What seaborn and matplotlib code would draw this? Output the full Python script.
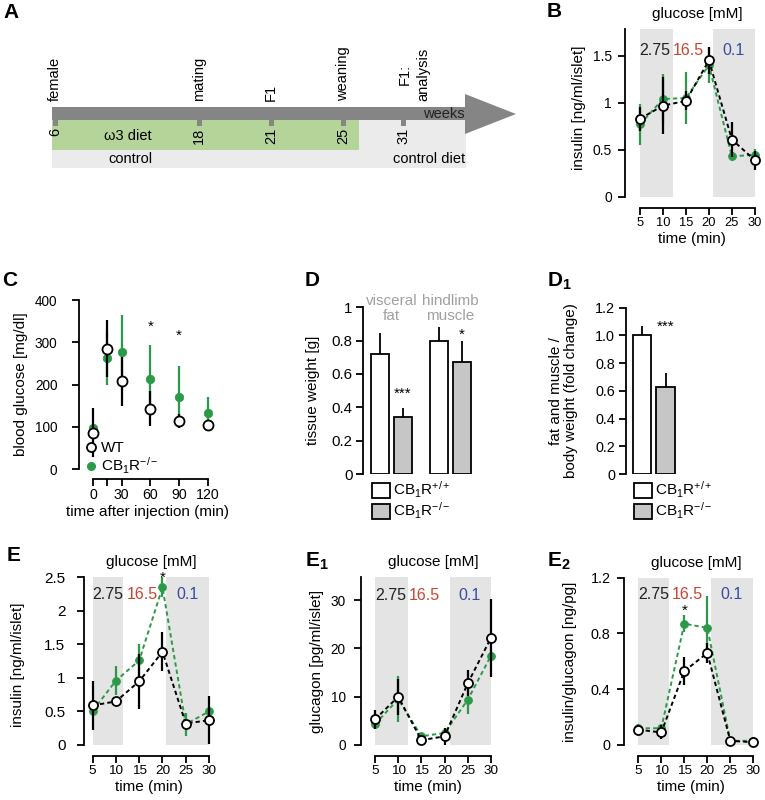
import numpy as np
import pandas as pd
import matplotlib
matplotlib.use('Agg')
import matplotlib.pyplot as plt
import seaborn as sns
from matplotlib.patches import Patch, Rectangle, Polygon
from matplotlib.lines import Line2D

# ---------------- data ----------------
timeline_weeks = ['6', '18', '21', '25', '31']
timeline_events = ['female', 'mating', 'F1', 'weaning', 'F1:\nanalysis']
diet_labels = ['ω3 diet', 'control', 'control diet']

perifusion_time = [5, 10, 15, 20, 25, 30]
glucose_steps = ['2.75', '16.5', '0.1']

b_wt = [0.83, 0.97, 1.02, 1.45, 0.61, 0.39]
b_wt_err = [0.13, 0.30, 0.10, 0.14, 0.19, 0.10]
b_ko = [0.77, 1.04, 1.05, 1.40, 0.43, 0.45]
b_ko_err = [0.22, 0.27, 0.28, 0.19, 0.05, 0.06]

c_time = [0, 15, 30, 60, 90, 120]
c_wt = [86, 285, 208, 143, 114, 103]
c_wt_err = [58, 67, 58, 42, 17, 13]
c_ko = [96, 263, 276, 214, 171, 132]
c_ko_err = [8, 63, 88, 79, 73, 38]
c_sig_time = [60, 90]
c_sig_y = [353, 331]

d_tissue = ['visceral\nfat', 'hindlimb\nmuscle']
d_wt = [0.72, 0.80]
d_wt_err = [0.125, 0.08]
d_ko = [0.34, 0.67]
d_ko_err = [0.055, 0.13]
d_sig = ['***', '*']
d_sig_y = [0.522, 0.88]

d1_values = [1.00, 0.63]
d1_err = [0.065, 0.10]
d1_sig = '***'
d1_sig_y = 1.111

genotypes = [r'CB$_1$R$^{+/+}$', r'CB$_1$R$^{-/-}$']
c_legend = ['WT', r'CB$_1$R$^{-/-}$']

e_wt = [0.59, 0.65, 0.95, 1.39, 0.32, 0.37]
e_wt_err = [0.36, 0.05, 0.41, 0.29, 0.05, 0.36]
e_ko = [0.51, 0.96, 1.26, 2.35, 0.31, 0.50]
e_ko_err = [0.05, 0.22, 0.25, 0.15, 0.17, 0.06]

e1_wt = [5.3, 10.0, 1.0, 1.8, 12.8, 22.2]
e1_wt_err = [2.0, 3.7, 1.0, 1.8, 2.7, 8.1]
e1_ko = [4.3, 9.5, 1.8, 2.5, 9.4, 18.5]
e1_ko_err = [0.8, 4.7, 0.6, 0.8, 3.0, 0.8]

e2_wt = [0.11, 0.09, 0.53, 0.66, 0.03, 0.02]
e2_wt_err = [0.03, 0.05, 0.10, 0.07, 0.01, 0.01]
e2_ko = [0.12, 0.12, 0.87, 0.84, 0.03, 0.03]
e2_ko_err = [0.03, 0.03, 0.06, 0.23, 0.01, 0.01]

# ---------------- style ----------------
sns.set_theme(style='ticks')
plt.rcParams['font.family'] = ['Liberation Sans', 'DejaVu Sans']
plt.rcParams['mathtext.fontset'] = 'custom'
plt.rcParams['mathtext.rm'] = 'Liberation Sans'
plt.rcParams['mathtext.it'] = 'Liberation Sans:italic'
plt.rcParams['mathtext.bf'] = 'Liberation Sans:bold'
plt.rcParams['axes.linewidth'] = 1.3
plt.rcParams['xtick.major.width'] = 1.3
plt.rcParams['ytick.major.width'] = 1.3
plt.rcParams['xtick.major.size'] = 5
plt.rcParams['ytick.major.size'] = 5
plt.rcParams['xtick.major.pad'] = 1.5
plt.rcParams['ytick.major.pad'] = 3
plt.rcParams['xtick.labelsize'] = 9.7
plt.rcParams['ytick.labelsize'] = 10
plt.rcParams['axes.labelsize'] = 11
plt.rcParams['axes.edgecolor'] = 'black'
plt.rcParams['xtick.color'] = 'black'
plt.rcParams['ytick.color'] = 'black'
plt.rcParams['text.color'] = 'black'
plt.rcParams['axes.labelcolor'] = 'black'

GREEN = '#2a9a48'
SHADE = '#e4e4e4'
RED = '#c8452f'
BLUE = '#3c4aa0'
GRAYBAR = '#c6c6c6'
DASH = (0, (2.2, 1.6))
W, H = 765, 800

fig = plt.figure(figsize=(W / 100, H / 100), dpi=100)


def px_axes(box):
    left, top, right, bottom = box
    return fig.add_axes([left / W, 1 - bottom / H, (right - left) / W, (bottom - top) / H])


def panel_label(x, y, s):
    fig.text(x / W, 1 - y / H, s, fontsize=15, fontweight='bold', ha='left', va='top')


def y_style(ax, box, size, pad, label_cx, nlines=1, yfrac=0.5):
    left, top, right, bottom = box
    ax.tick_params(axis='y', labelsize=size, pad=pad)
    half = 8.6 if nlines == 1 else 16.8
    ax.yaxis.set_label_coords((label_cx + half - left) / (right - left), yfrac)


# ---------------- A: timeline ----------------
axA = px_axes((0, 0, 520, 200))
axA.set_xlim(0, 520)
axA.set_ylim(200, 0)
axA.axis('off')
axA.add_patch(Rectangle((52, 119), 414, 49, fc='#ebebeb', ec='none', zorder=1))
axA.add_patch(Rectangle((52, 119), 307, 31, fc='#b4d49a', ec='none', zorder=2))
axA.add_patch(Polygon([(52, 107), (465, 107), (465, 94), (516, 114), (465, 134),
                       (465, 120), (52, 120)], closed=True, fc='#858585', ec='none', zorder=3))
event_x = [55, 199, 271, 343, 403]
for xpos, wk, ev in zip(event_x, timeline_weeks, timeline_events):
    axA.add_patch(Rectangle((xpos - 2.5, 119), 5, 7, fc='#858585', ec='none', zorder=3))
    axA.text(xpos, 128, wk, rotation=90, ha='center', va='top', fontsize=10.5, zorder=4)
    axA.text(xpos + (11 if '\n' in ev else 0), 101, ev, rotation=90, ha='center', va='bottom',
             fontsize=10.5, linespacing=1.45, zorder=4)
axA.text(465, 114, 'weeks', ha='right', va='center', fontsize=10.5, color='#222222', zorder=4)
axA.text(128, 136, diet_labels[0], ha='center', va='center', fontsize=10.5, zorder=4)
axA.text(130, 159, diet_labels[1], ha='center', va='center', fontsize=10.5, zorder=4)
axA.text(465, 159, diet_labels[2], ha='right', va='center', fontsize=10.5, zorder=4)
panel_label(3, 3, 'A')


# ---------------- time-course helper ----------------
def time_panel(ax, wt, wt_err, ko, ko_err, xlim, ylim, yticks, yticklabels, ylabel,
               shades, num_y, stars=()):
    ax.set_xlim(*xlim)
    ax.set_ylim(*ylim)
    for a, b in shades:
        ax.axvspan(a, b, color=SHADE, lw=0, zorder=0)
    df_ko = pd.DataFrame({'time': perifusion_time, 'value': ko})
    df_wt = pd.DataFrame({'time': perifusion_time, 'value': wt})
    ax.errorbar(perifusion_time, ko, yerr=ko_err, fmt='none', ecolor=GREEN,
                elinewidth=1.6, capsize=0, zorder=2, clip_on=False)
    sns.lineplot(data=df_ko, x='time', y='value', ax=ax, color=GREEN, lw=1.4,
                 linestyle=DASH, marker='o', markersize=5.5, markerfacecolor=GREEN,
                 markeredgecolor=GREEN, errorbar=None, zorder=3, clip_on=False)
    ax.errorbar(perifusion_time, wt, yerr=wt_err, fmt='none', ecolor='black',
                elinewidth=1.6, capsize=0, zorder=4, clip_on=False)
    sns.lineplot(data=df_wt, x='time', y='value', ax=ax, color='black', lw=1.4,
                 linestyle=DASH, marker='o', markersize=6.5, markerfacecolor='white',
                 markeredgecolor='black', markeredgewidth=1.3, errorbar=None, zorder=5,
                 clip_on=False)
    ax.set_xticks(perifusion_time)
    ax.set_xticklabels([str(t) for t in perifusion_time])
    ax.set_yticks(yticks)
    ax.set_yticklabels(yticklabels)
    ax.set_xlabel('time (min)', labelpad=2)
    ax.set_ylabel(ylabel)
    sns.despine(ax=ax)
    ax.spines['bottom'].set_position(('outward', 8))
    ax.spines['bottom'].set_bounds(5, 30)
    ax.annotate('glucose [mM]', xy=(17.5, 1), xycoords=('data', 'axes fraction'),
                xytext=(0, 10.8), textcoords='offset points', ha='center', va='center',
                fontsize=11, annotation_clip=False)
    for xs, lab, col in zip([8.3, 15.6, 25.3], glucose_steps, ['#222222', RED, BLUE]):
        ax.text(xs, num_y, lab, ha='center', va='center', fontsize=11.5, color=col)
    for xs, ys in stars:
        ax.text(xs, ys, '*', ha='center', va='top', fontsize=11, clip_on=False)


# ---------------- B ----------------
boxB = (625, 29.3, 759, 197)
axB = px_axes(boxB)
time_panel(axB, b_wt, b_wt_err, b_ko, b_ko_err, (1.74, 30.9), (0, 1.78),
           [0, 0.5, 1, 1.5], ['0', '0.5', '1', '1.5'], 'insulin [ng/ml/islet]',
           [(5, 12.2), (20.8, 30)], 1.55)
y_style(axB, boxB, 10, 4.3, 577, yfrac=0.53)
axB.tick_params(axis='x', labelsize=9.3)
panel_label(547, 2, 'B')

# ---------------- C ----------------
boxC = (79, 300, 215, 469)
axC = px_axes(boxC)
axC.set_xlim(-14.6, 127.6)
axC.set_ylim(0, 400)
axC.errorbar(c_time, c_ko, yerr=c_ko_err, fmt='none', ecolor=GREEN, elinewidth=1.6,
             capsize=0, zorder=2, clip_on=False)
sns.scatterplot(x=c_time, y=c_ko, ax=axC, color=GREEN, s=38, edgecolor=GREEN, zorder=3,
                clip_on=False)
axC.errorbar(c_time, c_wt, yerr=c_wt_err, fmt='none', ecolor='black', elinewidth=1.6,
             capsize=0, zorder=4, clip_on=False)
sns.scatterplot(x=c_time, y=c_wt, ax=axC, color='white', s=52, edgecolor='black',
                linewidth=1.3, zorder=5, clip_on=False)
for xs, ys in zip(c_sig_time, c_sig_y):
    axC.text(xs, ys, '*', ha='center', va='top', fontsize=11)
axC.set_xticks(c_time)
axC.set_xticklabels(['0', '', '30', '60', '90', '120'])
axC.set_yticks([0, 100, 200, 300, 400])
axC.set_yticklabels(['0', '100', '200', '300', '400'])
axC.set_xlabel('time after injection (min)', labelpad=2)
axC.set_ylabel('blood glucose [mg/dl]')
y_style(axC, boxC, 9.8, 10.5, 19)
axC.tick_params(axis='x', labelsize=10.2)
sns.despine(ax=axC)
axC.spines['bottom'].set_position(('outward', 7))
axC.spines['bottom'].set_bounds(0, 120)
c_handles = [Line2D([], [], ls='', marker='o', ms=6.5, mfc='white', mec='black', mew=1.3),
             Line2D([], [], ls='', marker='o', ms=5.5, mfc=GREEN, mec=GREEN)]
axC.legend(c_handles, c_legend, loc='lower left', bbox_to_anchor=(0.04, -0.04),
           frameon=False, handlelength=0.8, handletextpad=0.3, labelspacing=0.0,
           borderpad=0, borderaxespad=0, fontsize=11)
panel_label(2, 271, 'C')

# ---------------- D ----------------
boxD = (363, 307.3, 475, 474)
axD = px_axes(boxD)
df_d = pd.DataFrame({
    'tissue': d_tissue * 2,
    'genotype': [genotypes[0]] * 2 + [genotypes[1]] * 2,
    'weight': d_wt + d_ko,
})
sns.barplot(data=df_d, x='tissue', y='weight', hue='genotype', hue_order=genotypes,
            palette=['white', GRAYBAR], edgecolor='black', linewidth=1.3, width=0.78,
            gap=0.2, errorbar=None, legend=False, ax=axD, zorder=2)
bars = sorted(axD.patches, key=lambda p: p.get_x())
bar_x = [p.get_x() + p.get_width() / 2 for p in bars]
bar_y = [p.get_height() for p in bars]
bar_err = [d_wt_err[0], d_ko_err[0], d_wt_err[1], d_ko_err[1]]
axD.errorbar(bar_x, bar_y, yerr=[[0] * 4, bar_err], fmt='none', ecolor='black',
             elinewidth=1.3, capsize=0, zorder=1)
for i, lab in enumerate(d_tissue):
    axD.text(i, 0.993, lab, ha='center', va='center', fontsize=11, color='#a0a0a0',
             linespacing=1.05)
axD.text(bar_x[1], d_sig_y[0], d_sig[0], ha='center', va='top', fontsize=11)
axD.text(bar_x[3], d_sig_y[1], d_sig[1], ha='center', va='top', fontsize=11)
axD.set_xlim(-0.486, 1.42)
axD.set_ylim(0, 1)
axD.set_yticks([0, 0.2, 0.4, 0.6, 0.8, 1])
axD.set_yticklabels(['0', '0.2', '0.4', '0.6', '0.8', '1'])
axD.set_xticks([])
axD.set_xlabel('')
axD.set_ylabel('tissue weight [g]')
y_style(axD, boxD, 10.8, 2.5, 311)
sns.despine(ax=axD, bottom=True)
box_handles = [Patch(fc='white', ec='black', lw=1.3), Patch(fc=GRAYBAR, ec='black', lw=1.3)]
axD.legend(box_handles, genotypes, loc='upper left', bbox_to_anchor=(0.08, -0.036),
           frameon=False, handlelength=1.2, handleheight=1.1, handletextpad=0.2,
           labelspacing=0.05, borderpad=0, borderaxespad=0, fontsize=11)
panel_label(305, 271, 'D')

# ---------------- D1 ----------------
boxD1 = (626, 307.7, 690, 474)
axD1 = px_axes(boxD1)
df_d1 = pd.DataFrame({'genotype': genotypes, 'ratio': d1_values})
sns.barplot(data=df_d1, x='genotype', y='ratio', hue='genotype', hue_order=genotypes,
            palette=['white', GRAYBAR], edgecolor='black', linewidth=1.3, width=0.78,
            errorbar=None, legend=False, ax=axD1, zorder=2)
bars1 = sorted(axD1.patches, key=lambda p: p.get_x())
b1x = [p.get_x() + p.get_width() / 2 for p in bars1]
b1y = [p.get_height() for p in bars1]
axD1.errorbar(b1x, b1y, yerr=[[0, 0], d1_err], fmt='none', ecolor='black',
              elinewidth=1.3, capsize=0, zorder=1)
axD1.text(b1x[1], d1_sig_y, d1_sig, ha='center', va='top', fontsize=11)
axD1.set_xlim(-0.70, 2.05)
axD1.set_ylim(0, 1.2)
axD1.set_yticks([0, 0.2, 0.4, 0.6, 0.8, 1.0, 1.2])
axD1.set_yticklabels(['0', '0.2', '0.4', '0.6', '0.8', '1.0', '1.2'])
axD1.set_xticks([])
axD1.set_xlabel('')
axD1.set_ylabel('fat and muscle /\nbody weight (fold change)', linespacing=1.1)
y_style(axD1, boxD1, 10.4, 3, 561.5, nlines=2)
sns.despine(ax=axD1, bottom=True)
axD1.legend(box_handles, genotypes, loc='upper left', bbox_to_anchor=(0.125, -0.036),
            frameon=False, handlelength=1.2, handleheight=1.1, handletextpad=0.2,
            labelspacing=0.05, borderpad=0, borderaxespad=0, fontsize=11)
panel_label(547, 271, r'D$_\mathbf{1}$')

# ---------------- E ----------------
boxE = (84.3, 577.3, 213, 745)
axE = px_axes(boxE)
time_panel(axE, e_wt, e_wt_err, e_ko, e_ko_err, (3.19, 30.86), (0, 2.5),
           [0, 0.5, 1, 1.5, 2, 2.5], ['0', '0.5', '1', '1.5', '2', '2.5'],
           'insulin [ng/ml/islet]', [(5, 11.5), (20.7, 30)], 2.24, stars=[(20, 2.593)])
y_style(axE, boxE, 11, 8.6, 16, yfrac=0.48)
panel_label(7, 546, 'E')

# ---------------- E1 ----------------
boxE1 = (360.7, 577, 495, 745)
axE1 = px_axes(boxE1)
time_panel(axE1, e1_wt, e1_wt_err, e1_ko, e1_ko_err, (1.92, 30.86), (0, 34.8),
           [0, 10, 20, 30], ['0', '10', '20', '30'], 'glucagon [pg/ml/islet]',
           [(5, 12.2), (21.2, 30)], 31.0)
y_style(axE1, boxE1, 9.8, 5.8, 315)
panel_label(305, 551, r'E$_\mathbf{1}$')

# ---------------- E2 ----------------
boxE2 = (624, 577.7, 757, 745)
axE2 = px_axes(boxE2)
time_panel(axE2, e2_wt, e2_wt_err, e2_ko, e2_ko_err, (1.89, 30.8), (0, 1.2),
           [0, 0.4, 0.8, 1.2], ['0', '0.4', '0.8', '1.2'], 'insulin/glucagon [ng/pg]',
           [(5, 11.7), (20.7, 30)], 1.076, stars=[(15, 1.015)])
y_style(axE2, boxE2, 10.4, 4.8, 568)
panel_label(547, 551, r'E$_\mathbf{2}$')

fig.savefig('out.png', dpi=100)
